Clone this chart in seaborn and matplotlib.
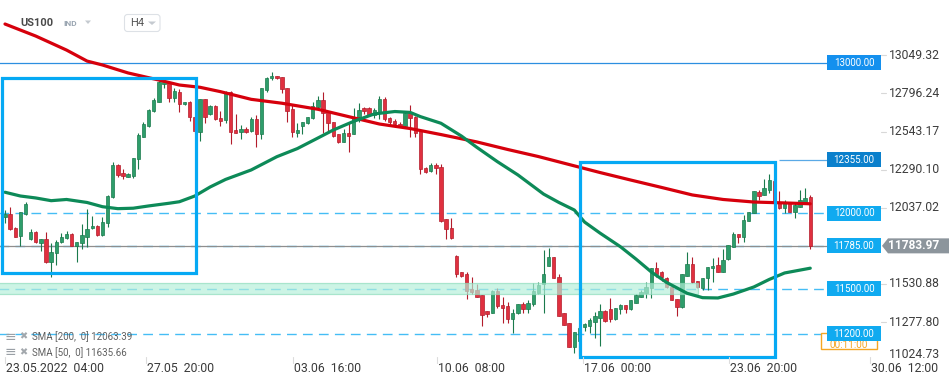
import numpy as np
import pandas as pd
import matplotlib
matplotlib.use("Agg")
import matplotlib.pyplot as plt
import seaborn as sns
from matplotlib.patches import Rectangle, Polygon, FancyBboxPatch
from matplotlib.transforms import IdentityTransform

# ---------------- data (US100, H4 candles) ----------------
opens = [11974, 11996, 11901, 11851, 11996, 11830, 11878, 11805, 11827, 11675,
         11735, 11812, 11834, 11863, 11785, 11801, 11841, 11901, 11916, 11856,
         11934, 12110, 12319, 12266, 12243, 12250, 12359, 12509, 12582, 12681,
         12741, 12857, 12870, 12764, 12804, 12724, 12739, 12638, 12542, 12759,
         12657, 12715, 12635, 12620, 12808, 12553, 12542, 12560, 12549, 12626,
         12525, 12819, 12897, 12912, 12903, 12830, 12693, 12535, 12580, 12598,
         12631, 12704, 12752, 12675, 12604, 12527, 12472, 12531, 12525, 12642,
         12697, 12697, 12653, 12675, 12759, 12631, 12613, 12591, 12580, 12664,
         12638, 12547, 12299, 12281, 12321, 12306, 11960, 11901, 11717, 11613,
         11597, 11496, 11491, 11458, 11352, 11340, 11484, 11391, 11385, 11296,
         11336, 11398, 11365, 11396, 11469, 11529, 11652, 11712, 11579, 11336,
         11270, 11110, 11150, 11243, 11254, 11280, 11307, 11352, 11365, 11296,
         11363, 11391, 11363, 11407, 11447, 11469, 11502, 11635, 11610, 11569,
         11513, 11431, 11376, 11586, 11664, 11551, 11506, 11569, 11635, 11657,
         11608, 11695, 11779, 11863, 11845, 11951, 11999, 12144, 12121, 12155,
         12215, 12077, 12033, 12066, 12011, 12044, 12073, 12110]
highs = [12022, 12044, 11911, 12010, 12077, 11894, 11880, 11830, 11874, 11805,
         11823, 11871, 11885, 11871, 11810, 11929, 12027, 11982, 11922, 11978,
         12122, 12339, 12328, 12292, 12270, 12365, 12531, 12608, 12691, 12764,
         12881, 12892, 12881, 12830, 12826, 12739, 12748, 12645, 12760, 12762,
         12718, 12718, 12681, 12812, 12812, 12660, 12587, 12575, 12638, 12653,
         12835, 12903, 12936, 12912, 12903, 12835, 12719, 12602, 12609, 12642,
         12741, 12779, 12804, 12675, 12604, 12530, 12558, 12598, 12697, 12731,
         12704, 12704, 12697, 12779, 12770, 12642, 12624, 12606, 12675, 12719,
         12646, 12550, 12306, 12332, 12332, 12328, 11960, 11967, 11723, 11613,
         11613, 11579, 11529, 11458, 11352, 11491, 11506, 11447, 11413, 11363,
         11398, 11413, 11425, 11535, 11542, 11757, 11768, 11712, 11595, 11336,
         11270, 11214, 11250, 11274, 11307, 11343, 11396, 11358, 11436, 11369,
         11398, 11391, 11425, 11464, 11491, 11542, 11635, 11675, 11619, 11575,
         11520, 11431, 11597, 11741, 11712, 11551, 11573, 11646, 11701, 11712,
         11763, 11790, 11874, 11863, 11989, 12011, 12148, 12155, 12226, 12261,
         12230, 12148, 12088, 12077, 12066, 12155, 12166, 12122]
lows = [11934, 11889, 11840, 11785, 11989, 11823, 11806, 11752, 11672, 11579,
        11657, 11805, 11830, 11782, 11675, 11761, 11774, 11898, 11851, 11850,
        11911, 12100, 12239, 12226, 12239, 12233, 12292, 12505, 12575, 12671,
        12741, 12830, 12737, 12737, 12675, 12719, 12615, 12535, 12482, 12602,
        12650, 12620, 12582, 12602, 12458, 12531, 12494, 12531, 12542, 12442,
        12494, 12808, 12885, 12890, 12801, 12609, 12505, 12509, 12527, 12593,
        12624, 12697, 12531, 12531, 12509, 12468, 12472, 12409, 12525, 12609,
        12660, 12653, 12631, 12624, 12613, 12591, 12575, 12575, 12575, 12507,
        12505, 12259, 12266, 12276, 12259, 11944, 11828, 11830, 11579, 11575,
        11431, 11464, 11444, 11254, 11314, 11340, 11373, 11270, 11270, 11207,
        11330, 11336, 11336, 11387, 11464, 11340, 11650, 11569, 11320, 11258,
        11110, 11075, 11055, 11219, 11203, 11170, 11121, 11280, 11280, 11292,
        11332, 11336, 11358, 11403, 11447, 11436, 11436, 11579, 11553, 11502,
        11425, 11320, 11369, 11586, 11535, 11502, 11491, 11491, 11546, 11608,
        11608, 11690, 11779, 11805, 11812, 11951, 11999, 12088, 12121, 12133,
        12075, 12027, 12000, 12011, 11971, 12044, 12066, 11761]
closes = [11996, 11894, 11845, 12007, 12062, 11878, 11808, 11828, 11675, 11741,
          11812, 11841, 11863, 11785, 11808, 11856, 11894, 11916, 11856, 11940,
          12115, 12319, 12252, 12248, 12261, 12365, 12520, 12593, 12686, 12753,
          12870, 12870, 12764, 12812, 12724, 12739, 12638, 12547, 12757, 12642,
          12715, 12624, 12615, 12804, 12542, 12535, 12560, 12542, 12626, 12525,
          12830, 12897, 12912, 12897, 12824, 12682, 12542, 12553, 12604, 12638,
          12713, 12752, 12664, 12598, 12515, 12472, 12531, 12515, 12642, 12686,
          12682, 12653, 12686, 12759, 12624, 12609, 12591, 12580, 12668, 12631,
          12535, 12292, 12276, 12321, 12299, 11951, 11894, 11834, 11595, 11586,
          11486, 11480, 11447, 11325, 11332, 11484, 11385, 11373, 11296, 11336,
          11398, 11365, 11403, 11484, 11524, 11597, 11708, 11569, 11320, 11258,
          11110, 11210, 11240, 11265, 11292, 11320, 11352, 11287, 11296, 11369,
          11391, 11363, 11425, 11458, 11480, 11509, 11635, 11597, 11579, 11509,
          11425, 11376, 11597, 11664, 11542, 11513, 11573, 11646, 11652, 11608,
          11690, 11790, 11863, 11845, 11956, 12011, 12148, 12117, 12170, 12221,
          12085, 12033, 12077, 12011, 12055, 12088, 12104, 11783.97]

sma200_x = [0, 6, 12, 16, 19, 24, 30, 34, 38, 42, 48, 54, 61, 67, 73, 79, 85, 92, 98, 104,
            110, 116, 122, 128, 134, 140, 146, 152, 157]
sma200_y = [13257, 13177, 13084, 13011, 12985, 12932, 12885, 12852, 12837, 12808,
            12757, 12731, 12691, 12642, 12593, 12563, 12523, 12474, 12424, 12377,
            12324, 12271, 12221, 12172, 12122, 12092, 12075, 12069, 12063.39]
sma50_x = [0, 3, 6, 9, 12, 16, 19, 22, 25, 28, 32, 34, 37, 40, 43, 48, 53, 57, 61, 64,
           68, 72, 76, 79, 81, 85, 89, 92, 96, 100, 105, 108, 111, 113, 116, 120, 123, 126,
           129, 133, 136, 139, 142, 146, 149, 152, 157]
sma50_y = [12140, 12115, 12102, 12084, 12092, 12072, 12044, 12031, 12034, 12049,
           12067, 12077, 12115, 12175, 12225, 12288, 12376, 12430, 12500, 12553,
           12611, 12660, 12676, 12670, 12642, 12598, 12513, 12438, 12343, 12255,
           12128, 12072, 12022, 11942, 11869, 11778, 11697, 11611, 11541, 11469,
           11440, 11438, 11464, 11511, 11561, 11604, 11635.66]
sma200_last = "12063.39"
sma50_last = "11635.66"
last_price = 11783.97

level_dashed = [12000, 11785, 11500, 11200]
level_solid = 13000
level_stub = 12355
label_levels = [13000, 12355, 12000, 11785, 11500, 11200]
label_texts = ["13000.00", "12355.00", "12000.00", "11785.00", "11500.00", "11200.00"]
label_colors = ["#1490ee", "#0b80cc", "#10aaf0", "#10aaf0", "#10aaf0", "#10aaf0"]

price_ticks = [13049.32, 12796.24, 12543.17, 12290.10, 12037.02, 11530.88, 11277.80]
bottom_tick = "11024.73"

zone_lo, zone_hi, zone_end = 11462, 11535, 135.1
box_x0 = [-0.64, 112.2]
box_x1 = [37.2, 150.2]
box_top = [12897, 12343]
box_bot = [11602, 11044]

date_pos = [0, 27.5, 56.2, 84.2, 112.7, 141.1, 168.6]
date_labels = ["23.05.2022  04:00", "27.05  20:00", "03.06  16:00", "10.06  08:00",
               "17.06  00:00", "23.06  20:00", "30.06  12:00"]

# ---------------- figure ----------------
sns.set_theme(style="white")
plt.rcParams["font.family"] = ["Roboto", "DejaVu Sans"]

W, H = 949, 385
fig = plt.figure(figsize=(W / 100, H / 100), dpi=100, facecolor="white")
ax = fig.add_axes([0, 23 / H, 820 / W, 362 / H])
ax.set_xlim(-0.975, 158.9)
ax.set_ylim(11012.8, 13416.5)
ax.axis("off")

df = pd.DataFrame(dict(i=np.arange(len(opens)), o=opens, h=highs, l=lows, c=closes))
up = df.c >= df.o
g_face, g_edge = "#2e9d6b", "#1a7a4c"
r_face, r_edge = "#e0303f", "#b31c2b"
body_h = np.maximum((df.c - df.o).abs(), 7)
body_b = np.minimum(df.o, df.c)

# level lines (under candles)
dash = (0, (7, 4.5))
for lv in level_dashed:
    ax.hlines(lv, -1.5, 160.3, colors="#45bdf5", lw=1.0, linestyles=[dash], zorder=2, clip_on=False)
ax.hlines(last_price, -1.5, 160.3, colors="#8e8e8e", lw=0.9, zorder=2.2, clip_on=False)
ax.hlines(level_solid, -1.5, 160.3, colors="#2c8fe0", lw=0.9, zorder=2, clip_on=False)
ax.hlines(level_stub, 151, 160.3, colors="#5aa9e6", lw=0.9, zorder=2, clip_on=False)

# candles
ax.vlines(df.i[up], df.l[up], df.h[up], color=g_edge, lw=0.8, zorder=3)
ax.vlines(df.i[~up], df.l[~up], df.h[~up], color=r_edge, lw=0.8, zorder=3)
ax.bar(df.i[up], body_h[up], bottom=body_b[up], width=0.66, color=g_face,
       edgecolor=g_edge, linewidth=0.5, zorder=4)
ax.bar(df.i[~up], body_h[~up], bottom=body_b[~up], width=0.66, color=r_face,
       edgecolor=r_edge, linewidth=0.5, zorder=4)

# zone
ax.add_patch(Rectangle((-1.5, zone_lo), zone_end + 1.5, zone_hi - zone_lo,
                       facecolor="#b4efd9", edgecolor="#8cdcbb", lw=0.9, alpha=0.68, zorder=4.5))

# SMA lines
sns.lineplot(x=sma200_x, y=sma200_y, ax=ax, color="#d6000c", linewidth=2.3, sort=False, zorder=5)
sns.lineplot(x=sma50_x, y=sma50_y, ax=ax, color="#0d8a58", linewidth=2.3, sort=False, zorder=5)

# blue boxes
for x0, x1, t, b in zip(box_x0, box_x1, box_top, box_bot):
    ax.add_patch(Rectangle((x0, b), x1 - x0, t - b, fill=False, edgecolor="#05a9f4",
                           lw=2.3, zorder=6, clip_on=False))

# ---------------- decorations in pixel space ----------------
IT = IdentityTransform()


def dy(v):
    return ax.transData.transform((0, v))[1]


def ty(ytop):
    return H - ytop


# partly hidden orange timer label (behind the 11200 label)
fig.add_artist(Rectangle((821, ty(349)), 56, 16, transform=IT, facecolor="white",
                         edgecolor="#f5a623", lw=1.0, zorder=8))
fig.text(849 / W, 1 - 344.5 / H, "00:11:00", color="#f5a623", fontsize=7.2,
         ha="center", va="center", zorder=8.5)

# level labels
for lv, txt, col in zip(label_levels, label_texts, label_colors):
    yc = dy(lv)
    fig.add_artist(Rectangle((827, yc - 7.5), 54, 15, transform=IT, facecolor=col,
                             edgecolor="none", zorder=10))
    fig.text(854 / W, yc / H, txt, color="white", fontsize=7.0, ha="center",
             va="center", zorder=11)

# price axis
for p in price_ticks:
    yc = dy(p)
    fig.text(889 / W, yc / H, f"{p:.2f}", color="#3c3c3c", fontsize=8.7,
             ha="left", va="center", zorder=11)
    fig.add_artist(plt.Line2D([881, 886], [yc, yc], transform=IT, color="#d8d8d8", lw=0.8))
fig.text(889 / W, 1 - 354.5 / H, bottom_tick, color="#3c3c3c", fontsize=8.7,
         ha="left", va="center", zorder=11)

# current price tag
yc = dy(last_price)
fig.add_artist(Polygon([[882, yc], [888, yc + 7.5], [949, yc + 7.5], [949, yc - 7.5], [888, yc - 7.5]],
                       closed=True, transform=IT, facecolor="#8c959c", edgecolor="none", zorder=10))
fig.text(914 / W, yc / H, f"{last_price:.2f}", color="white", fontsize=8.6,
         fontweight="bold", ha="center", va="center", zorder=11)

# date axis
for pos, lab in zip(date_pos, date_labels):
    xd = ax.transData.transform((pos, 0))[0]
    fig.add_artist(plt.Line2D([xd, xd], [ty(357), ty(363)], transform=IT, color="#dcdcdc", lw=0.8))
    fig.text((xd + 1) / W, 1 - 368 / H, lab, color="#3a3a3a", fontsize=8.8,
             ha="left", va="center")

# top-left header
fig.text(20.5 / W, 1 - 23.3 / H, "US100", color="#4a4a4a", fontsize=8, fontweight="bold",
         ha="left", va="center")
fig.text(63 / W, 1 - 24 / H, "IND", color="#9aa5b1", fontsize=6.0, fontweight="bold",
         ha="left", va="center")
fig.add_artist(Polygon([[85, ty(20.5)], [91, ty(20.5)], [88, ty(24)]], transform=IT,
                       facecolor="#c5cad0", edgecolor="none"))
fig.add_artist(FancyBboxPatch((124.5, ty(31.5)), 35.5, 17, boxstyle="round,pad=0,rounding_size=3",
                              transform=IT, facecolor="white", edgecolor="#dde1e6", lw=0.8))
fig.text(130 / W, 1 - 23.3 / H, "H4", color="#555555", fontsize=8, ha="left", va="center")
fig.add_artist(Polygon([[148, ty(21.5)], [156, ty(21.5)], [152, ty(25)]], transform=IT,
                       facecolor="#c5cad0", edgecolor="none"))

# indicator legend
for yl, txt in [(336.7, f"SMA [200,  0] {sma200_last}"), (352.3, f"SMA [50,  0] {sma50_last}")]:
    fig.text(5 / W, 1 - yl / H, "≡", color="#9aa0a6", fontsize=10, ha="left", va="center",
             family=["DejaVu Sans"])
    fig.text(19 / W, 1 - yl / H, "✖", color="#a3a8ad", fontsize=7, ha="left", va="center",
             family=["DejaVu Sans"])
    fig.text(32 / W, 1 - yl / H, txt, color="#606060", fontsize=7, ha="left", va="center")

fig.savefig("out.png", dpi=100, facecolor="white")
